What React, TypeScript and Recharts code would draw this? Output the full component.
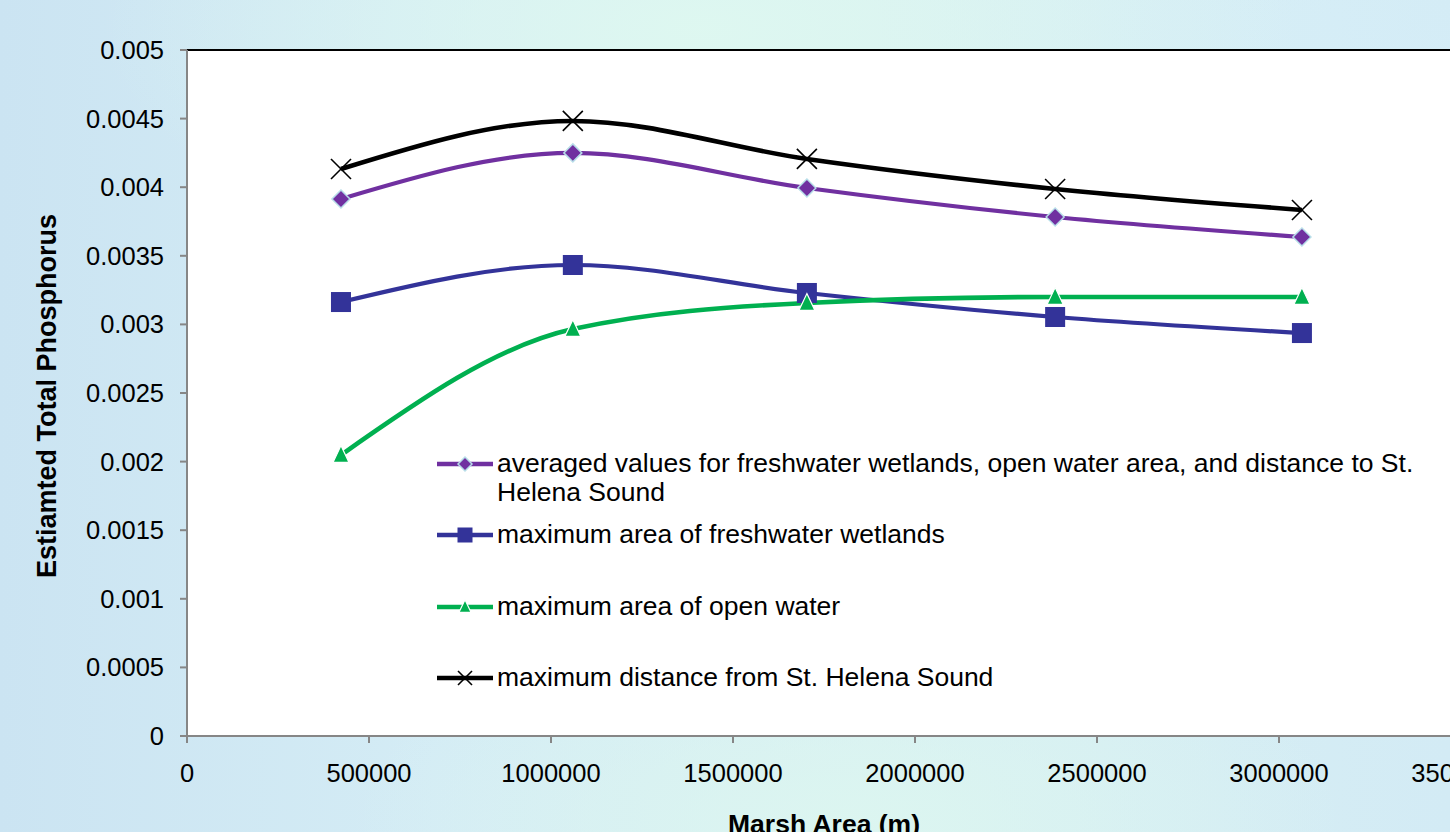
import React from 'react';
import { LineChart, Line, XAxis, YAxis, CartesianGrid, ReferenceLine, Legend, Label } from 'recharts';

const marshArea = [423000, 1060000, 1703000, 2385000, 3063000];
const averagedValues = [0.003914, 0.00425, 0.003994, 0.003783, 0.003637];
const maxFreshwater = [0.003163, 0.003433, 0.003229, 0.003054, 0.002937];
const maxOpenWater = [0.002048, 0.002966, 0.003156, 0.0032, 0.0032];
const maxDistance = [0.004133, 0.004483, 0.004206, 0.003987, 0.003834];

const xTicks = [0, 500000, 1000000, 1500000, 2000000, 2500000, 3000000, 3500000];
const yTicks = [0, 0.0005, 0.001, 0.0015, 0.002, 0.0025, 0.003, 0.0035, 0.004, 0.0045, 0.005];

const legendNames = [
  'averaged values for freshwater wetlands, open water area, and distance to St.\nHelena Sound',
  'maximum area of freshwater wetlands',
  'maximum area of open water',
  'maximum distance from St. Helena Sound',
];

const data = marshArea.map((x, i) => ({
  x,
  avg: averagedValues[i],
  fresh: maxFreshwater[i],
  open: maxOpenWater[i],
  dist: maxDistance[i],
}));

const FONT = '"Liberation Sans", Arial, sans-serif';
const FS = 25.5;
const LFS = 26.5;
const PURPLE = '#7030a0';
const BLUE = '#333399';
const GREEN = '#00b050';
const BLACK = '#000000';

type Shape = 'diamond' | 'square' | 'triangle' | 'x';

function marker(shape: Shape, cx: number, cy: number, s: number, key?: any) {
  if (shape === 'diamond') {
    const r = s / 2;
    return (
      <polygon key={key} points={`${cx},${cy - r} ${cx + r},${cy} ${cx},${cy + r} ${cx - r},${cy}`}
        fill={PURPLE} stroke="#b7dde8" strokeWidth={1.5} />
    );
  }
  if (shape === 'square') {
    return <rect key={key} x={cx - s / 2} y={cy - s / 2} width={s} height={s} fill={BLUE} />;
  }
  if (shape === 'triangle') {
    const h = s * 1.05;
    return (
      <polygon key={key} points={`${cx},${cy - h / 2 - 1} ${cx + s / 2},${cy + h / 2 - 1} ${cx - s / 2},${cy + h / 2 - 1}`}
        fill={GREEN} stroke="#ffffff" strokeWidth={1.2} />
    );
  }
  const r = s / 2;
  return (
    <g key={key}>
      <line x1={cx - r} y1={cy - r} x2={cx + r} y2={cy + r} stroke={BLACK} strokeWidth={1.6} />
      <line x1={cx - r} y1={cy + r} x2={cx + r} y2={cy - r} stroke={BLACK} strokeWidth={1.6} />
    </g>
  );
}

const series: { key: string; color: string; shape: Shape; size: number; lsize: number; width: number }[] = [
  { key: 'avg', color: PURPLE, shape: 'diamond', size: 18, lsize: 14, width: 4.2 },
  { key: 'fresh', color: BLUE, shape: 'square', size: 20, lsize: 15, width: 4.2 },
  { key: 'open', color: GREEN, shape: 'triangle', size: 16, lsize: 12, width: 4.6 },
  { key: 'dist', color: BLACK, shape: 'x', size: 20, lsize: 14, width: 4.6 },
];

const renderLegend = () => (
  <div style={{ fontFamily: FONT, fontSize: LFS, color: '#000' }}>
    {series.map((s, i) => {
      const lines = legendNames[i].split('\n');
      return (
        <div key={s.key} style={{ height: 71.3, display: 'flex', alignItems: 'flex-start' }}>
          <svg width={60} height={30} style={{ flex: '0 0 auto' }}>
            <line x1={0} y1={15} x2={56} y2={15} stroke={s.color} strokeWidth={4.5} />
            {marker(s.shape, 28, 15, s.lsize)}
          </svg>
          <div style={{ lineHeight: '29px', whiteSpace: 'nowrap', marginTop: 0 }}>
            {lines.map((t, j) => (
              <div key={j}>{t}</div>
            ))}
          </div>
        </div>
      );
    })}
  </div>
);

const renderYLabel = () => (
  <text x={56} y={396} transform="rotate(-90 56 396)" textAnchor="middle" fontFamily={FONT}
    fontSize={27} fontWeight="bold" fill="#000">
    Estiamted Total Phosphorus
  </text>
);

const renderXLabel = () => (
  <text x={824} y={833} textAnchor="middle" fontFamily={FONT} fontSize={26.5} fontWeight="bold" fill="#000">
    Marsh Area (m)
  </text>
);

const bg =
  'radial-gradient(ellipse 600px 250px at 700px 30px, rgba(222,248,240,0.95), rgba(222,248,240,0) 100%),' +
  'radial-gradient(ellipse 500px 200px at 850px 820px, rgba(220,246,240,0.9), rgba(220,246,240,0) 100%),' +
  'radial-gradient(ellipse 400px 300px at 1300px 150px, rgba(214,238,248,0.9), rgba(214,238,248,0) 100%),' +
  'linear-gradient(90deg, #cbe4f2 0%, #d4ecf5 30%, #d8f0f2 60%, #d3ebf5 100%)';

export default function App() {
  return (
    <div style={{ position: 'absolute', left: 0, top: 0, width: 1450, height: 832, overflow: 'hidden', background: bg }}>
      <LineChart width={1490} height={832} data={data} margin={{ top: 50, right: 29, bottom: 0, left: 0 }}>
        <CartesianGrid horizontal={false} vertical={false} fill="#ffffff" />
        <XAxis
          dataKey="x"
          type="number"
          domain={[0, 3500000]}
          ticks={xTicks}
          interval={0}
          height={96}
          tickSize={7}
          tickMargin={21}
          stroke="#868686"
          strokeWidth={2}
          tick={{ fill: '#000', fontSize: FS, fontFamily: FONT }}
          allowDataOverflow
        >
          <Label content={renderXLabel} />
        </XAxis>
        <YAxis
          type="number"
          domain={[0, 0.005]}
          ticks={yTicks}
          interval={0}
          width={187}
          tickSize={7}
          tickMargin={16}
          stroke="#868686"
          strokeWidth={2}
          tickFormatter={(v: number) => String(v)}
          tick={{ fill: '#000', fontSize: FS, fontFamily: FONT }}
          allowDataOverflow
        >
          <Label content={renderYLabel} />
        </YAxis>
        <ReferenceLine y={0.005} stroke="#000" strokeWidth={2} ifOverflow="extendDomain" />
        <ReferenceLine x={3500000} stroke="#000" strokeWidth={2} ifOverflow="extendDomain" />
        <Legend
          layout="vertical"
          align="center"
          verticalAlign="middle"
          content={renderLegend}
          wrapperStyle={{ position: 'absolute', left: 437, top: 449, width: 1010, height: 290 }}
        />
        {series.map((s) => (
          <Line
            key={s.key}
            type="monotone"
            dataKey={s.key}
            stroke={s.color}
            strokeWidth={s.width}
            isAnimationActive={false}
            activeDot={false}
            dot={(p: any) => marker(s.shape, p.cx, p.cy, s.size, `${s.key}-${p.index}`)}
          />
        ))}
      </LineChart>
    </div>
  );
}
